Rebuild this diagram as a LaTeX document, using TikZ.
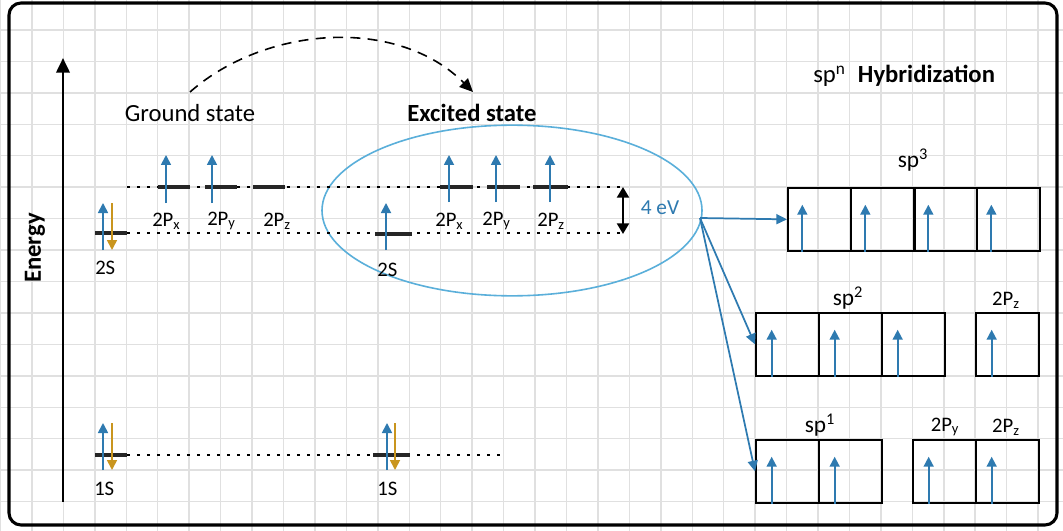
\documentclass[tikz,border=0pt]{standalone}
\usepackage{fontspec}
\setmainfont{Carlito}
\usetikzlibrary{arrows.meta,shapes.geometric}
\definecolor{eblue}{HTML}{2E7AB0}
\definecolor{eorange}{HTML}{C9951E}
\definecolor{ellc}{HTML}{5AAFDA}
\definecolor{gridc}{HTML}{E0E0E0}
\begin{document}
\begin{tikzpicture}[x=0.75pt,y=-0.75pt,
  lbl/.style={font=\fontsize{15.5}{17}\selectfont, inner sep=0pt},
  splbl/.style={font=\fontsize{17.5}{19}\selectfont, inner sep=0pt},
  ttl/.style={font=\bfseries\fontsize{18.5}{20}\selectfont, inner sep=0pt},
  eup/.style={eblue, line width=1.3pt, -{Triangle[length=7.5pt,width=7.5pt]}},
  edown/.style={eorange, line width=1.3pt, -{Triangle[length=7.5pt,width=7.5pt]}},
  bar/.style={line width=2.9pt, black!85},
  dotl/.style={line width=1.2pt, dash pattern=on 2.2pt off 5.3pt},
  cell/.style={draw, line width=1.3pt, minimum width=47.25pt, minimum height=47.25pt, inner sep=0pt, anchor=north west},
  tarrow/.style={eblue, line width=1.3pt, -{Triangle[length=8pt,width=7.5pt]}}
]
\useasboundingbox (0,0) rectangle (1063,531);
\fill[white] (0,0) rectangle (1063,531);
% grid
\foreach \i in {-1,...,33} \draw[gridc, line width=1.1pt] ({32+31.44*\i},0) -- ({32+31.44*\i},531);
\foreach \j in {0,...,15} \draw[gridc, line width=1.1pt] (0,{30+31.44*\j}) -- (1063,{30+31.44*\j});
% frame
\draw[line width=2.3pt, rounded corners=9pt] (9,3) rectangle (1057,525);

% energy axis
\coordinate (axb) at (63,502);
\coordinate (axt) at (63,58);
\draw[line width=2pt, -{Triangle[length=11pt,width=10pt]}] (axb) -- (axt);
\node[ttl, rotate=90] (energy) at (35,248) {Energy};

% titles
\node[font=\fontsize{18.5}{20}\selectfont, inner sep=0pt] (gst) at (190,113) {Ground state};
\node[ttl] (est) at (472,113) {Excited state};
\coordinate (arcs) at (190,92);
\coordinate (arce) at (473,92);
\draw[line width=1.2pt, dash pattern=on 7.5pt off 5.5pt, -{Triangle[length=10pt,width=9pt]}]
  (arcs) .. controls (265,26) and (397,16) .. (arce);

% ellipse
\node[ellipse, draw=ellc, line width=1.2pt, minimum width=285pt, minimum height=128pt, inner sep=0pt] (ell) at (512,210.5) {};

% dotted level lines
\draw[dotl] (127,187) -- (620,187);
\draw[dotl] (127,233) -- (620,233);
\draw[dotl] (127,455) -- (505,455);

% ground state levels
\draw[bar] (95,233) -- (127,233);
\draw[edown] (112,203) -- (112,250);
\draw[eup] (103,250) -- (103,203);
\draw[bar] (158,187) -- (190,187);
\draw[bar] (205,187) -- (237,187);
\draw[bar] (253,187) -- (285,187);
\draw[eup] (166,203) -- (166,155);
\draw[eup] (212,203) -- (212,155);
\node[lbl, anchor=west] (g2s) at (95,268) {2S};
\node[lbl, anchor=west] (g2px) at (152,221) {2P\textsubscript{x}};
\node[lbl, anchor=west] (g2py) at (207,221) {2P\textsubscript{y}};
\node[lbl, anchor=west] (g2pz) at (263,221) {2P\textsubscript{z}};

% ground 1S
\draw[bar] (95,455) -- (127,455);
\draw[edown] (112,423) -- (112,470);
\draw[eup] (103,470) -- (103,423);
\node[lbl, anchor=west] (g1s) at (94,489) {1S};

% excited state levels
\draw[bar] (375,234) -- (412,234);
\draw[eup] (386,250) -- (386,203);
\draw[bar] (440,187) -- (473,187);
\draw[bar] (487,187) -- (520,187);
\draw[bar] (533,187) -- (568,187);
\draw[eup] (449,202) -- (449,155);
\draw[eup] (496,202) -- (496,155);
\draw[eup] (550,202) -- (550,155);
\node[lbl, anchor=west] (e2s) at (377,270) {2S};
\node[lbl, anchor=west] (e2px) at (435,221) {2P\textsubscript{x}};
\node[lbl, anchor=west] (e2py) at (482,221) {2P\textsubscript{y}};
\node[lbl, anchor=west] (e2pz) at (537,221) {2P\textsubscript{z}};

% excited 1S
\draw[bar] (373,455) -- (410,455);
\draw[edown] (395,423) -- (395,470);
\draw[eup] (387,470) -- (387,423);
\node[lbl, anchor=west] (e1s) at (377,489) {1S};

% 4 eV gap
\coordinate (gt) at (623,187);
\coordinate (gb) at (623,234);
\draw[line width=1.7pt, {Triangle[length=8pt,width=9pt]}-{Triangle[length=8pt,width=9pt]}] (gt) -- (gb);
\node[font=\fontsize{16}{18}\selectfont, text=eblue, inner sep=0pt] (gap) at (660,208) {4 eV};

% hybridization title
\node[inner sep=0pt, anchor=west] (hyb) at (813,76) {\fontsize{18.5}{20}\selectfont sp\textsuperscript{n}\enspace\textbf{Hybridization}};

% sp3 row
\node[cell] (a1) at (787,187) {};
\node[cell] (a2) at (850,187) {};
\node[cell] (a3) at (913,187) {};
\node[cell] (a4) at (976,187) {};
\draw[line width=2.2pt] (a2.north east) -- (a2.south east);
\foreach \c in {a1,a2,a3,a4} \draw[eup] ([xshift=11.5pt]\c.south west) -- ++(0,-47);
\node[splbl] (sp3) at (913,160) {sp\textsuperscript{3}};

% sp2 row
\node[cell] (b1) at (755,312) {};
\node[cell] (b2) at (818,312) {};
\node[cell] (b3) at (881,312) {};
\node[cell] (b4) at (975,312) {};
\foreach \c in {b1,b2,b3,b4} \draw[eup] ([xshift=12.5pt]\c.south west) -- ++(0,-47);
\node[splbl] (sp2) at (848,298) {sp\textsuperscript{2}};
\node[lbl] (b2pz) at (1006,300) {2P\textsubscript{z}};

% sp1 row
\node[cell] (c1) at (755,439) {};
\node[cell] (c2) at (818,439) {};
\node[cell] (c3) at (912,439) {};
\node[cell] (c4) at (975,439) {};
\foreach \c in {c1,c2,c3,c4} \draw[eup] ([xshift=12.5pt]\c.south west) -- ++(0,-47);
\node[splbl] (sp1) at (820,425) {sp\textsuperscript{1}};
\node[lbl] (c2py) at (945,427) {2P\textsubscript{y}};
\node[lbl] (c2pz) at (1006,427) {2P\textsubscript{z}};

% transition arrows
\coordinate (hub) at (700,218);
\draw[tarrow] (hub) -- (a1.west);
\draw[tarrow] (hub) -- (b1.west);
\draw[tarrow] (hub) -- (c1.west);
\end{tikzpicture}
\end{document}
